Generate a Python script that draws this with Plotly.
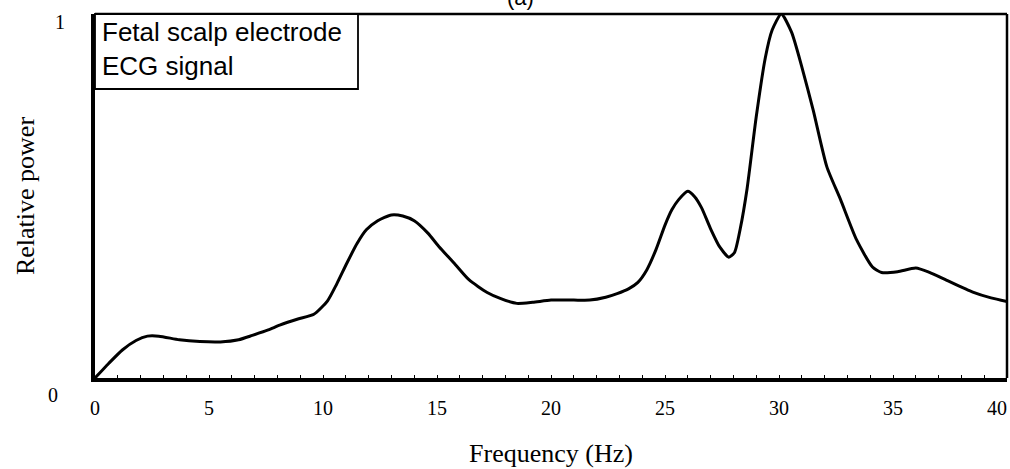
import plotly.graph_objects as go

# Power spectrum of a fetal scalp electrode ECG recording
freq_hz = [0.0, 0.6, 1.2, 1.8, 2.3, 2.8, 3.7, 4.6, 5.5, 6.3, 6.9, 7.6, 8.1, 8.9,
           9.6, 10.2, 10.6, 11.05, 11.5, 11.9, 12.4, 13.0, 13.5, 14.0, 14.6,
           15.1, 15.8, 16.4, 17.2, 17.8, 18.5, 19.2, 20.0, 21.0, 21.7, 22.4,
           22.9, 23.4, 23.8, 24.2, 24.6, 25.0, 25.3, 25.6, 26.0, 26.3, 26.6,
           27.0, 27.4, 27.8, 28.05, 28.3, 28.6, 29.0, 29.4, 29.7, 30.1, 30.55,
           31.0, 31.5, 32.1, 32.7, 33.4, 34.1, 34.5, 35.2, 36.0, 36.6, 37.3,
           38.5, 39.3, 40.0]
rel_power = [0.0, 0.04, 0.077, 0.103, 0.115, 0.115, 0.105, 0.1, 0.099, 0.105,
             0.117, 0.132, 0.145, 0.162, 0.175, 0.212, 0.258, 0.316, 0.37,
             0.407, 0.432, 0.448, 0.445, 0.432, 0.398, 0.36, 0.312, 0.27,
             0.235, 0.218, 0.205, 0.208, 0.214, 0.214, 0.214, 0.222, 0.232,
             0.245, 0.262, 0.297, 0.352, 0.42, 0.462, 0.49, 0.513, 0.498,
             0.468, 0.41, 0.36, 0.332, 0.345, 0.41, 0.52, 0.717, 0.88, 0.956,
             1.0, 0.95, 0.855, 0.736, 0.58, 0.49, 0.38, 0.305, 0.29, 0.292,
             0.302, 0.29, 0.27, 0.236, 0.22, 0.21]

x_ticks = [0, 5, 10, 15, 20, 25, 30, 35, 40]
y_ticks = [0, 1]
legend_lines = ["Fetal scalp electrode", "ECG signal"]

serif = "Liberation Serif, Times New Roman, serif"
sans = "Liberation Sans, Arial, sans-serif"

# the last x label is right-aligned to its tick so it stays on the page
x_ticktext = [str(v) for v in x_ticks[:-1]] + [""]

fig = go.Figure()
fig.add_trace(go.Scatter(
    x=freq_hz, y=rel_power, mode="lines",
    line=dict(color="black", width=3, shape="spline", smoothing=0.6),
    showlegend=False, hoverinfo="skip",
))

fig.update_layout(
    width=1010, height=469,
    margin=dict(l=95, r=3, t=14, b=91),
    paper_bgcolor="white", plot_bgcolor="white",
    showlegend=False,
    xaxis=dict(
        range=[0, 40], tickvals=x_ticks, ticktext=x_ticktext,
        showgrid=False, zeroline=False, automargin=False,
        showline=True, linecolor="black", linewidth=3.5,
        ticks="inside", ticklen=3, tickcolor="black",
        minor=dict(dtick=1, ticks="inside", ticklen=3, tickcolor="black"),
        tickfont=dict(family=serif, size=20, color="black"),
        ticklabelstandoff=9, ticklabeloverflow="allow",
        title=dict(text="Frequency (Hz)", font=dict(family=serif, size=26, color="black"),
                   standoff=27),
    ),
    yaxis=dict(
        range=[0, 1], tickvals=y_ticks, showticklabels=False,
        showgrid=False, zeroline=False, automargin=False,
        showline=True, linecolor="black", linewidth=3.5, ticks="",
        title=dict(text="Relative power", font=dict(family=serif, size=26, color="black"),
                   standoff=50),
    ),
)

fig.add_annotation(x=x_ticks[-1], xref="x", y=0, yref="paper",
                   xanchor="right", yanchor="middle", xshift=2, yshift=-30,
                   text=str(x_ticks[-1]), showarrow=False,
                   font=dict(family=serif, size=20, color="black"))

# thinner top and right frame edges
fig.add_shape(type="line", xref="paper", yref="paper", x0=0, x1=1, y0=1, y1=1,
              line=dict(color="black", width=2.5))
fig.add_shape(type="line", xref="paper", yref="paper", x0=1, x1=1, y0=0, y1=1,
              line=dict(color="black", width=2.5))

# y-axis end labels
for val, dx, dy in [(y_ticks[0], -49, -17), (y_ticks[1], -42, -8)]:
    fig.add_annotation(x=0, xref="paper", y=val, yref="y", text=str(val),
                       showarrow=False, xshift=dx, yshift=dy,
                       font=dict(family=serif, size=20, color="black"))

# label box in the upper-left corner
fig.add_shape(type="rect", xref="paper", yref="paper",
              x0=0, x1=(358 - 95) / 912, y0=1 - (89 - 14) / 364, y1=1,
              line=dict(color="black", width=1.8), fillcolor="white", layer="above")
fig.add_annotation(x=0, xref="paper", y=1, yref="paper", xanchor="left", yanchor="top",
                   xshift=5, yshift=-1,
                   text="<br>".join(legend_lines), align="left", showarrow=False,
                   font=dict(family=sans, size=26, color="black"))

# panel label, partly cut off at the top edge
fig.add_annotation(x=(520 - 95) / 912, xref="paper", y=1.045, yref="paper",
                   yanchor="middle", text="(a)", showarrow=False,
                   font=dict(family=sans, size=22, color="black"))

fig.write_html("out.html")
